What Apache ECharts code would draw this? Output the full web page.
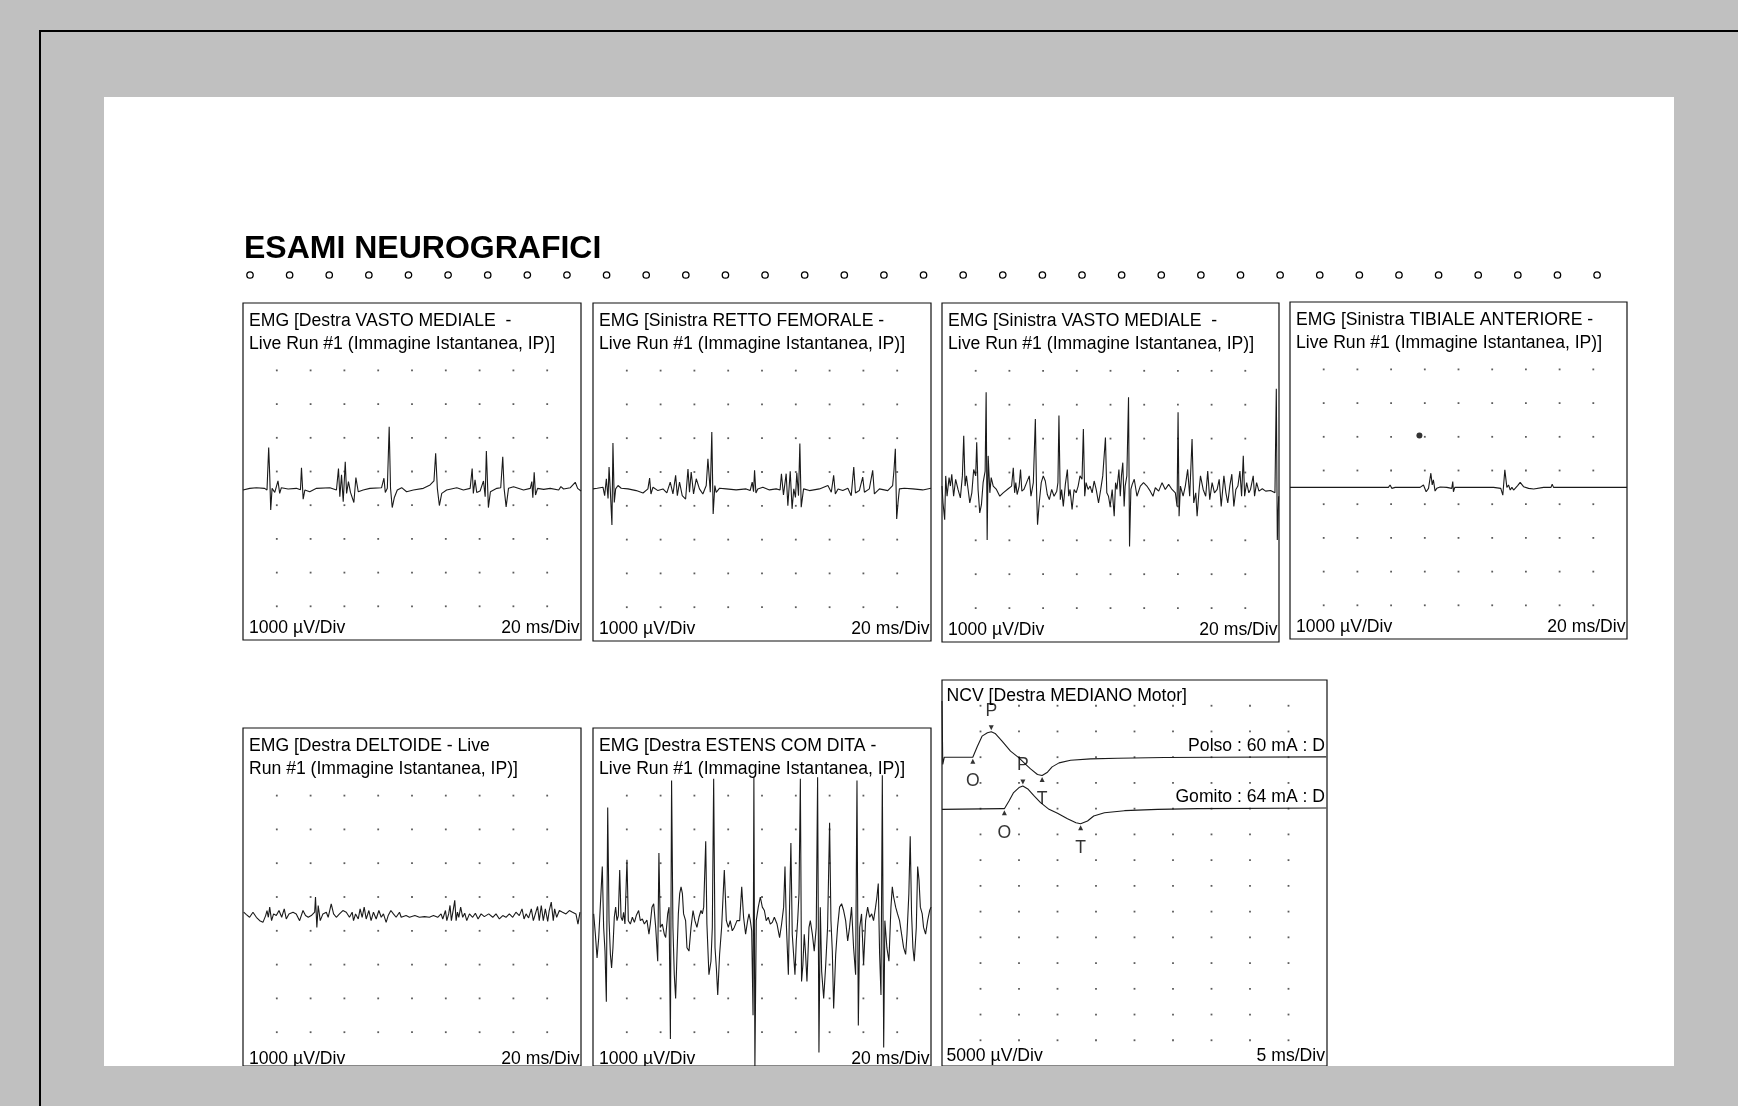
<!DOCTYPE html>
<html><head><meta charset="utf-8">
<script src="https://cdn.jsdelivr.net/npm/echarts/dist/echarts.min.js"></script>
<style>html,body{margin:0;padding:0;background:#c0c0c0}#c{width:1738px;height:1106px}</style>
</head><body><div id="c"></div>
<script>
// ---------------- DATA (time in ms, amplitude in µV) ----------------
const pageTitle = "ESAMI NEUROGRAFICI";
const emgTitles = [
  ["EMG [Destra VASTO MEDIALE  -", "Live Run #1 (Immagine Istantanea, IP)]"],
  ["EMG [Sinistra RETTO FEMORALE -", "Live Run #1 (Immagine Istantanea, IP)]"],
  ["EMG [Sinistra VASTO MEDIALE  -", "Live Run #1 (Immagine Istantanea, IP)]"],
  ["EMG [Sinistra TIBIALE ANTERIORE -", "Live Run #1 (Immagine Istantanea, IP)]"],
  ["EMG [Destra DELTOIDE - Live", "Run #1 (Immagine Istantanea, IP)]"],
  ["EMG [Destra ESTENS COM DITA -", "Live Run #1 (Immagine Istantanea, IP)]"]
];
const emgGainLabel = "1000 µV/Div";
const emgSweepLabel = "20 ms/Div";
const emgSweepMs = 200;          // 10 div x 20 ms
const emgRange = [-4500, 5500];  // 10 div x 1000 µV
const ncvTitle = "NCV [Destra MEDIANO Motor]";
const ncvGainLabel = "5000 µV/Div";
const ncvSweepLabel = "5 ms/Div";
const ncvSweepMs = 50;            // 10 div x 5 ms
const ncvRange = [-60000, 15000]; // 15 div x 5000 µV
const ncvTraceLabels = ["Polso : 60 mA : D", "Gomito : 64 mA : D"];
const ncvTraceOffset = [0, -10000];

const vastoMedialeDestra = [[0,-50],[4,0],[7.9,20],[12.8,0],[14.2,-50],[15.2,1210],[15.8,400],[16.4,-640],[17.2,0],[18.8,-120],[20.7,220],[21.7,-150],[22.7,20],[26.7,-20],[31.6,0],[34,-40],[34.6,610],[35.6,-320],[36.6,-50],[39.5,-100],[43.5,0],[51.4,20],[55.3,-50],[56.5,590],[57.3,-250],[58.3,400],[59.3,-400],[60.5,790],[61.3,-150],[62.4,200],[63.6,-120],[65.6,-420],[66.8,320],[68.2,-100],[71.1,-50],[75.1,0],[82,20],[83.4,300],[84.2,-120],[85.4,0],[86.5,1830],[87.3,0],[88.3,-570],[89.5,-280],[91.3,-50],[93.9,20],[96.8,-100],[100.8,-50],[106.7,0],[110.7,100],[113,220],[114,1040],[115,0],[116.2,-510],[117.6,-150],[120.5,-50],[126.5,20],[130.4,-50],[134.4,0],[135.6,590],[136.3,-150],[137.3,250],[138.3,-120],[140.3,-80],[142.3,220],[143.3,-250],[144,1110],[145.2,-570],[146.4,-100],[150.2,0],[152.5,20],[153.7,940],[154.5,0],[155.7,-550],[157.1,0],[160.1,50],[166,-50],[170,0],[170.9,200],[171.5,-280],[172.3,480],[173.1,-200],[174.3,0],[177.9,-30],[181.8,0],[186.8,-50],[188.1,50],[189.7,-20],[193.7,20],[196.6,180],[198,0],[200,-80]];

const rettoFemoraleSinistra = [[0,0],[2.5,20],[5.9,50],[6.9,-200],[7.9,300],[8.9,-280],[9.5,650],[10.2,0],[11.2,-1070],[11.8,1360],[12.6,-400],[13.4,0],[14.8,100],[16.7,20],[20.7,0],[25.6,-50],[29.6,-120],[32.5,0],[33.5,320],[34.3,-150],[35.5,50],[38.4,-50],[41.4,0],[43.7,-120],[45.7,200],[47.3,-150],[48.9,400],[49.9,-200],[51.2,200],[52.8,-200],[54.8,-300],[56.2,590],[57.1,-100],[58.1,500],[59.5,-150],[61.1,300],[63,0],[65,-150],[67,100],[68,890],[69.4,-100],[70.3,1680],[71.1,-740],[72.1,100],[72.9,-100],[74.9,20],[78.8,0],[84.7,-30],[90.6,0],[93,-50],[94.2,200],[95,-80],[95.6,550],[96.4,-120],[97.5,0],[100.5,50],[104.4,-30],[108.4,0],[110.7,-30],[111.5,450],[112.7,-180],[114.3,450],[115.3,-500],[116.7,520],[117.8,-590],[118.8,0],[119.8,-250],[120.6,480],[121.6,-200],[122.4,1340],[123.2,-540],[124.6,0],[128.1,-50],[134,0],[139,100],[141,-100],[142.4,400],[143.4,-150],[145,0],[147.8,-50],[150.8,20],[152.8,-200],[154.3,650],[155.3,-120],[157.6,-50],[159.6,350],[160.6,-100],[163.5,0],[165.5,550],[166.5,-150],[169.5,0],[174.4,-50],[177.3,100],[178.1,550],[178.9,1190],[179.7,-890],[180.5,-400],[181.3,0],[184.2,20],[189.2,0],[195.1,-30],[200,20]];

const vastoMedialeSinistra = [[0,100],[0.6,-400],[1.6,-890],[2.2,400],[3,-200],[4.2,350],[5,100],[5.8,450],[6.9,-200],[8.1,300],[9.5,0],[10.9,-250],[12.1,400],[12.9,1580],[13.7,100],[14.5,400],[15.5,0],[16.5,-400],[17.7,-100],[18.8,590],[20,400],[20.6,1390],[21.4,0],[22.4,-690],[23.4,-450],[24.4,200],[25.6,540],[26.2,2870],[26.8,-1490],[27.4,990],[28.4,-100],[29.2,350],[30.4,100],[32.3,0],[34.3,-200],[36.3,-100],[39.3,20],[41.3,100],[42.3,640],[43.1,-100],[43.8,200],[44.6,-150],[45.8,100],[46.6,590],[47.4,-50],[48.6,0],[50.2,200],[51.8,400],[52.8,-200],[54.2,200],[55.4,2080],[56.1,0],[56.7,-1040],[57.7,-400],[58.9,200],[60.1,400],[61.3,250],[62.5,-150],[63.7,-300],[65.1,0],[66.5,-200],[68.1,-50],[68.8,200],[69.4,2180],[70.2,-300],[71,0],[72,-500],[73.2,150],[74.4,590],[75.2,-200],[76,0],[77.2,-590],[78.4,0],[79.6,-100],[80.8,100],[81.9,400],[83.1,300],[83.9,1780],[84.7,-200],[85.5,200],[86.7,0],[87.9,100],[89.1,-100],[90.3,250],[91.5,0],[92.9,-400],[94.2,0],[95.4,400],[97,1530],[97.8,-100],[98.8,-200],[99.8,-500],[101,0],[102.2,-790],[103,200],[103.8,0],[105,590],[105.8,-200],[106.5,400],[107.3,790],[108.1,-500],[108.7,100],[109.7,400],[110.7,2720],[111.3,-1680],[112.1,0],[112.9,150],[114.1,300],[115.7,-200],[117.7,100],[119.6,200],[121.6,100],[123.6,-50],[125.2,-200],[126.6,50],[128.6,-50],[130.6,200],[132.5,0],[134.5,150],[136.5,0],[138.5,-100],[139.5,-500],[140.1,2280],[140.7,-790],[141.5,100],[143.1,-200],[144.4,100],[145.8,590],[147,-200],[148.4,1490],[149.4,-400],[150.6,-100],[151.4,-790],[152.6,0],[153.4,400],[155,0],[156.5,-200],[157.7,540],[158.9,-300],[160.3,200],[161.7,-100],[163.3,0],[164.5,300],[165.7,-500],[167.3,400],[168.5,-100],[169.6,-400],[170.8,100],[172,450],[173.2,-500],[174.4,0],[175.6,100],[176.8,540],[177.8,-200],[178.8,990],[179.6,-200],[180.8,200],[182.1,-100],[183.1,0],[184.7,400],[185.5,-200],[186.7,200],[188.1,-50],[190.1,20],[192.1,-50],[195,-30],[197.6,-100],[198.4,2970],[199,-1490],[199.8,-200]];

const tibialeAnterioreSinistra = [[0,0],[58.4,0],[59.4,70],[60.4,-30],[62.4,0],[77.2,0],[79.2,70],[80.8,-130],[82.2,-30],[83.6,420],[84.4,70],[85.1,220],[86.1,-110],[87.1,-30],[89.1,10],[93.1,0],[96,-30],[96.6,170],[97,-130],[97.8,0],[105,0],[120.8,0],[125.1,-30],[126.3,-230],[127.5,520],[128.7,0],[129.7,70],[130.7,-80],[131.7,0],[132.7,-80],[135.1,50],[136.6,150],[138.6,20],[141.6,-30],[144.6,-50],[150.5,0],[154.9,0],[155.6,90],[156.4,0],[200,0]];
const tibialeArtifact = [[76.8, 1535]];

const deltoideDestra = [[0.4,50],[2,-20],[3.9,-100],[5.9,50],[7.9,-100],[9.9,-200],[11.8,-250],[13.4,-50],[14.2,100],[15,-100],[15.8,200],[16.9,-200],[18.1,0],[19.7,-50],[21.3,100],[22.9,-100],[24.4,150],[25.6,-150],[27.2,0],[29.6,50],[31.5,0],[33.5,-200],[35.5,100],[37,-50],[38.6,-100],[40.4,-50],[42.4,50],[42.9,500],[43.7,-400],[44.5,250],[45.7,-200],[47.3,0],[49.3,50],[50.4,-100],[52.2,300],[53.6,0],[55.2,-100],[57.1,0],[59.1,100],[61.1,50],[63,-100],[64.6,50],[65.4,-200],[66.6,0],[68.2,-150],[69.3,150],[70.5,-100],[71.7,200],[72.9,-150],[74.5,100],[75.8,-200],[77.2,50],[78.8,-150],[80.4,100],[81.8,-100],[83.1,0],[84.7,-250],[85.9,-50],[87.5,100],[89,0],[90.6,-100],[92.6,50],[93.6,-100],[94.6,-150],[96.5,-50],[98.5,-100],[101.7,-50],[104.4,-100],[107.4,-80],[110.3,-100],[112.7,-50],[115.2,-100],[117.2,0],[118.2,-150],[119.8,100],[120.6,-200],[121.7,0],[122.5,250],[123.3,-200],[124.5,150],[125.3,400],[126.1,-200],[126.9,50],[127.7,-100],[128.8,200],[130,-100],[131.2,20],[132.4,-200],[134,0],[135.9,-100],[137.5,20],[139.1,-150],[140.9,0],[142.8,-80],[145.4,0],[147.8,-100],[149.7,0],[151.7,-150],[153.7,-50],[155.6,-100],[157.6,0],[159.6,-100],[161.5,50],[163.5,-50],[165.1,150],[166.3,-150],[167.5,0],[169,-120],[170.6,150],[171.8,-200],[173,0],[174.3,220],[175.3,-200],[176.5,250],[177.7,-200],[178.9,150],[180.3,-220],[181.2,100],[182.4,350],[183.6,-200],[184.4,150],[185.6,-100],[187.2,100],[189.1,50],[191.1,0],[193.1,100],[195,50],[197,0],[198.2,-300],[199.4,50]];

const estensComDitaDestra = [[0.4,0],[1.4,-600],[2.4,-1300],[3.4,-700],[4.3,200],[5.5,1400],[6.3,-400],[7.1,-1100],[7.9,-2600],[8.7,3150],[9.5,-200],[10.3,-1200],[11,-1600],[11.8,-1000],[12.6,-100],[13.4,200],[14.2,-200],[15,-50],[15.8,1300],[16.6,-100],[17.4,-200],[18.1,50],[18.9,-300],[20.1,1600],[20.9,-200],[22.1,-300],[23.3,-100],[24.5,-250],[25.6,-50],[27,100],[28,-200],[29.2,-150],[30.4,-300],[31.9,-180],[33.1,-600],[33.9,-300],[34.9,200],[35.9,300],[37.1,-400],[38.3,-1400],[39,1800],[39.8,-400],[41,-300],[42.2,-600],[43,-700],[44.2,0],[45,200],[45.8,-3700],[46.5,3950],[47.3,-400],[48.1,-1800],[48.9,-2500],[49.7,-1200],[50.5,0],[51.3,600],[52.1,800],[52.9,600],[53.6,0],[54.8,-200],[55.6,-1000],[56.8,-1100],[58,-400],[59.2,100],[60.3,-200],[61.5,-400],[62.7,-100],[63.9,100],[64.7,0],[65.5,200],[66.7,2150],[67.4,-300],[68.6,-1800],[69.8,-1400],[70.6,-400],[71.4,4000],[72.2,-1000],[73,-1600],[73.8,-2400],[74.9,-1200],[76.1,-400],[77.7,1300],[78.9,-200],[80.1,-400],[81.2,-200],[82.4,-500],[83.6,-400],[85.2,-200],[86.8,-200],[88,800],[89.1,-100],[90.3,-600],[91.5,-200],[92.3,0],[93.1,-200],[93.9,-500],[94.7,-3000],[95.2,4050],[95.8,-4550],[96.6,-200],[97.8,200],[99,500],[100.2,200],[101.4,100],[102.5,-200],[103.7,-100],[104.9,-300],[106.1,-250],[107.3,-100],[108.9,-300],[110.4,-700],[111.6,-300],[112.8,200],[113.6,1400],[114.4,-300],[115.6,-1800],[116.3,200],[117.1,2100],[117.9,-600],[118.7,-1200],[119.5,-1800],[120.3,-800],[121.1,-200],[121.9,600],[122.7,4000],[123.4,-2000],[124.2,-1500],[125,-600],[125.8,-1200],[126.6,-2000],[127.8,-400],[128.6,-200],[129.8,-600],[130.9,-1100],[132.1,-400],[132.9,4040],[133.7,-4100],[134.5,200],[135.3,-1700],[136.5,-2500],[137.6,-1600],[138.8,-400],[140,2700],[140.8,-200],[141.6,-1100],[142.4,-2800],[143.6,-1200],[144.7,-400],[145.9,200],[147.1,300],[148.3,100],[149.5,-200],[150.7,-800],[151.8,-400],[153,200],[154.2,-1000],[155.4,-1800],[156.2,3950],[157,-3300],[157.8,-400],[158.9,0],[160.1,-1500],[161.3,-200],[162.5,200],[163.7,-100],[164.9,0],[166,-200],[167.2,200],[168,500],[168.8,900],[169.6,-1200],[170.4,-2400],[171.2,4100],[172,-3950],[172.7,-200],[173.9,-1000],[175.1,-1400],[176.3,200],[177.1,800],[177.9,500],[179.1,200],[180.2,0],[181.4,-200],[182.6,-600],[183.8,-1000],[185,-1200],[185.8,-600],[186.9,600],[187.7,2300],[188.5,0],[189.3,-1000],[190.1,-1400],[191.3,-400],[192.1,1400],[192.9,1000],[193.7,200],[194.8,0],[195.6,-400],[196.8,-600],[198,-200],[199.2,100],[200,200]];

const ncvPolso = [[0,10900],[0.1,-1400],[0.3,0],[4.0,0],[4.6,2140],[5.2,4090],[5.9,4740],[6.4,4930],[6.9,4610],[7.8,3120],[8.9,1170],[10.0,-130],[10.9,-1430],[11.5,-2270],[12.4,-3370],[13.0,-3570],[13.7,-2920],[14.3,-1880],[15.2,-1100],[16.7,-580],[19.3,-320],[22.8,-190],[28.9,-60],[35.4,0],[49.9,60]];
const ncvGomito = [[0,-130],[7.8,0],[8.1,0],[8.7,1490],[9.3,3120],[10.0,4090],[10.5,4410],[11.2,3760],[11.9,2600],[12.8,1170],[13.9,-130],[15.0,-910],[16.3,-1950],[17.4,-2730],[18.0,-2920],[18.9,-2400],[19.7,-1430],[21.1,-780],[23.7,-390],[28.0,-130],[33.2,0],[49.9,130]];
const ncvPolsoMarks = [["O",4.0,0],["P",6.4,4930],["T",13.0,-3570]];
const ncvGomitoMarks = [["O",8.1,0],["P",10.5,4410],["T",18.0,-2920]];

// ---------------- LAYOUT ----------------
const FONT = "'Liberation Sans', Arial, Helvetica, sans-serif";
const TXT = 17.6;
const INK = '#1a1a1a';
const emgPanels = [
  {left:243, top:303, width:338, height:337, foot:11.5},
  {left:593, top:303, width:338, height:338, foot:12},
  {left:942, top:303, width:337, height:339, foot:12},
  {left:1290, top:302, width:337, height:337, foot:11.5},
  {left:243, top:728, width:338, height:338, foot:7},
  {left:593, top:728, width:338, height:338, foot:7}
];
const ncvPanel = {left:942, top:680, width:385, height:386, foot:10};
const emgTraces = [vastoMedialeDestra, rettoFemoraleSinistra, vastoMedialeSinistra, tibialeAnterioreSinistra, deltoideDestra, estensComDitaDestra];

const grids = [], xAxes = [], yAxes = [], series = [], graphics = [];

function addAxes(p, xmax, yr) {
  grids.push({left:p.left, top:p.top, width:p.width, height:p.height, show:true,
    borderColor:'#111', borderWidth:1.2, backgroundColor:'transparent', containLabel:false});
  const i = grids.length - 1;
  xAxes.push({gridIndex:i, type:'value', min:0, max:xmax, show:false});
  yAxes.push({gridIndex:i, type:'value', min:yr[0], max:yr[1], show:false});
  return i;
}
function dotSeries(i, xmax, yr, nx, ny, rowFrom) {
  const d = [];
  const dx = xmax / nx, dy = (yr[1] - yr[0]) / ny;
  for (let a = 1; a < nx; a++) for (let k = rowFrom; k < ny; k++) d.push([a * dx, yr[1] - k * dy]);
  series.push({type:'scatter', xAxisIndex:i, yAxisIndex:i, data:d, symbol:'rect', symbolSize:1.8,
    itemStyle:{color:'#333'}, silent:true, animation:false, z:1});
}
function txt(x, y, text, align, opt) {
  graphics.push(Object.assign({type:'text', x:x, y:y, z:50, silent:true,
    style:{text:text, font:TXT + 'px ' + FONT, fill:'#000', align:align, verticalAlign:'middle'}}, opt || {}));
}

emgPanels.forEach((p, n) => {
  const i = addAxes(p, emgSweepMs, emgRange);
  dotSeries(i, emgSweepMs, emgRange, 10, 10, 2);
  series.push({type:'line', xAxisIndex:i, yAxisIndex:i, data:emgTraces[n], showSymbol:false, symbol:'none',
    lineStyle:{color:INK, width:1.1}, clip:true, animation:false, silent:true, z:3});
  txt(p.left + 6, p.top + 18, emgTitles[n][0], 'left');
  txt(p.left + 6, p.top + 41, emgTitles[n][1], 'left');
  txt(p.left + 6, p.top + p.height - p.foot, emgGainLabel, 'left');
  txt(p.left + p.width - 1.5, p.top + p.height - p.foot, emgSweepLabel, 'right');
  if (n === 3) {
    series.push({type:'scatter', xAxisIndex:i, yAxisIndex:i, data:tibialeArtifact, symbolSize:6,
      itemStyle:{color:'#000'}, silent:true, animation:false, z:4});
  }
});

// NCV panel
(function () {
  const p = ncvPanel;
  const i = addAxes(p, ncvSweepMs, ncvRange);
  dotSeries(i, ncvSweepMs, ncvRange, 10, 15, 1);
  [ncvPolso, ncvGomito].forEach((tr, k) => {
    series.push({type:'line', xAxisIndex:i, yAxisIndex:i, data:tr.map(q => [q[0], q[1] + ncvTraceOffset[k]]),
      showSymbol:false, symbol:'none', lineStyle:{color:INK, width:1.1}, clip:true, animation:false, silent:true, z:3});
  });
  [ncvPolsoMarks, ncvGomitoMarks].forEach((mk, k) => {
    const pts = mk.map(m => {
      const up = m[0] === 'P';
      return {value:[m[1], m[2] + ncvTraceOffset[k]], symbolRotate: up ? 180 : 0, symbolOffset:[0, up ? -4 : 4]};
    });
    series.push({type:'scatter', xAxisIndex:i, yAxisIndex:i, data:pts, symbol:'triangle', symbolSize:[5,5],
      itemStyle:{color:'#000'}, silent:true, animation:false, z:4});
    const lbl = mk.map(m => {
      const up = m[0] === 'P';
      return {value:[m[1], m[2] + ncvTraceOffset[k]],
        label:{show:true, formatter:m[0], position:'inside', offset:[0, up ? -21 : 24],
          fontFamily:FONT, fontSize:TXT, color:'#000'}};
    });
    series.push({type:'scatter', xAxisIndex:i, yAxisIndex:i, data:lbl, symbol:'circle', symbolSize:1,
      itemStyle:{color:'rgba(0,0,0,0)'}, silent:true, animation:false, z:4});
  });
  txt(p.left + 4.5, p.top + 16.5, ncvTitle, 'left');
  txt(p.left + p.width - 2, p.top + 66, ncvTraceLabels[0], 'right');
  txt(p.left + p.width - 2, p.top + 117, ncvTraceLabels[1], 'right');
  txt(p.left + 4.5, p.top + p.height - p.foot, ncvGainLabel, 'left');
  txt(p.left + p.width - 2, p.top + p.height - p.foot, ncvSweepLabel, 'right');
})();

// page decoration
graphics.unshift({type:'rect', z:-100, silent:true, shape:{x:104, y:97, width:1570, height:969}, style:{fill:'#fff'}});
graphics.push({type:'text', x:244, y:249, z:50, silent:true,
  style:{text:pageTitle, font:'bold 32px ' + FONT, fill:'#000', align:'left', verticalAlign:'middle'}});
for (let c = 0; c < 35; c++) {
  graphics.push({type:'circle', z:50, silent:true, shape:{cx:250 + c * 39.62, cy:275, r:3.2},
    style:{fill:'none', stroke:'#000', lineWidth:1.3}});
}
graphics.push({type:'rect', z:90, silent:true, shape:{x:41, y:1066, width:1697, height:40}, style:{fill:'#c0c0c0'}});
graphics.push({type:'rect', z:90, silent:true, shape:{x:1674, y:97, width:64, height:1009}, style:{fill:'#c0c0c0'}});
graphics.push({type:'line', z:95, silent:true, shape:{x1:40, y1:31, x2:1738, y2:31}, style:{stroke:'#000', lineWidth:2}});
graphics.push({type:'line', z:95, silent:true, shape:{x1:40, y1:30, x2:40, y2:1106}, style:{stroke:'#000', lineWidth:2}});

const chart = echarts.init(document.getElementById('c'), null, {renderer:'canvas', width:1738, height:1106});
chart.setOption({
  backgroundColor:'#c0c0c0',
  animation:false,
  grid:grids, xAxis:xAxes, yAxis:yAxes, series:series,
  graphic:{elements:graphics}
});
</script></body></html>
